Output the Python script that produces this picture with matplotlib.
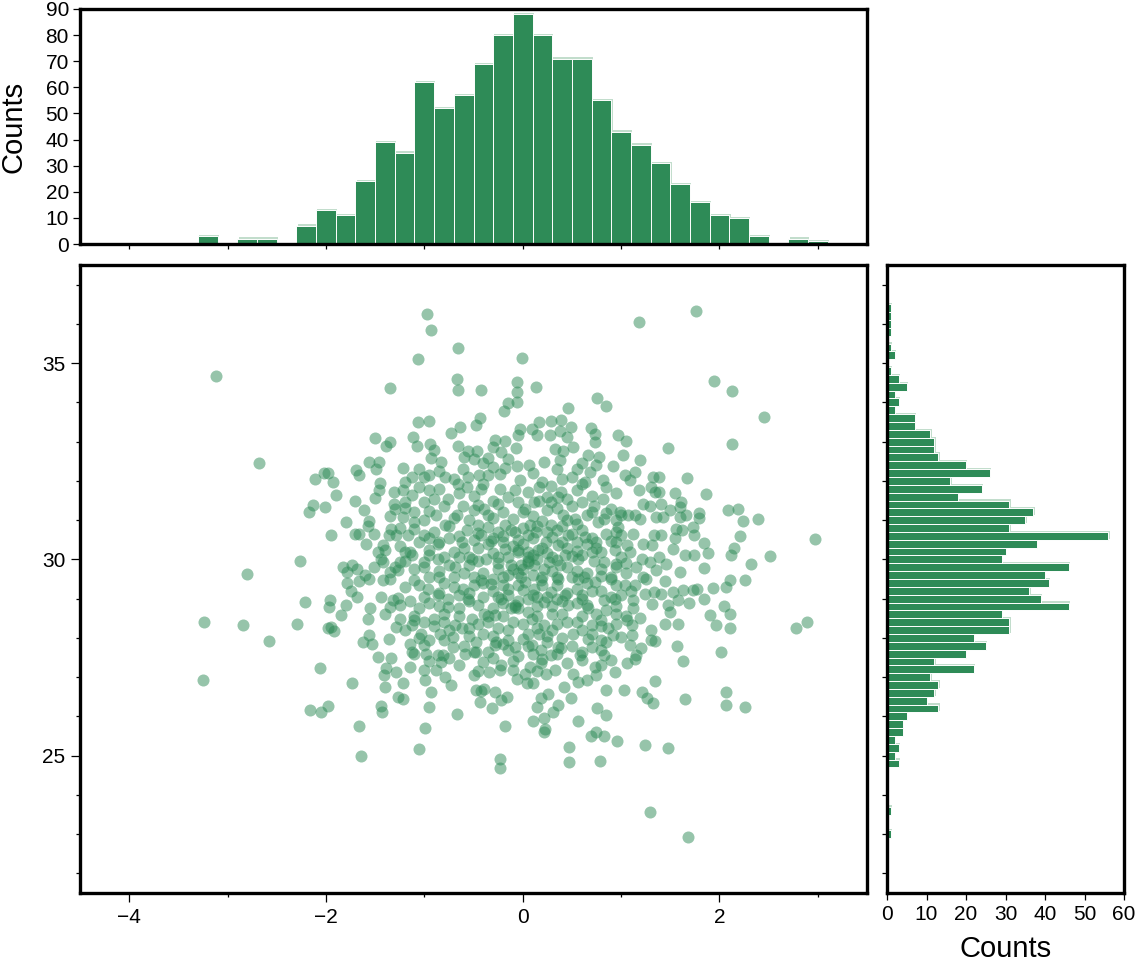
import matplotlib
matplotlib.use("Agg")
import matplotlib.pyplot as plt
from matplotlib.ticker import MultipleLocator, NullFormatter

plt.rcParams['font.family'] = ['Liberation Sans', 'DejaVu Sans']
plt.rcParams['axes.unicode_minus'] = True

# ---------------- data ----------------
top_centers = [-3.2, -3.0, -2.8, -2.6, -2.4, -2.2, -2.0, -1.8, -1.6, -1.4, -1.2, -1.0,
               -0.8, -0.6, -0.4, -0.2, 0.0, 0.2, 0.4, 0.6, 0.8, 1.0, 1.2, 1.4, 1.6,
               1.8, 2.0, 2.2, 2.4, 2.6, 2.8, 3.0]
top_counts = [3, 0, 2, 2, 0, 7, 13, 11, 24, 39, 35, 62,
              52, 57, 69, 80, 88, 80, 71, 71, 55, 43, 38, 31, 23,
              16, 11, 10, 3, 0, 2, 1]

right_centers = [36.4, 36.2, 36.0, 35.8, 35.6, 35.4, 35.2, 35.0, 34.8, 34.6, 34.4, 34.2,
                 34.0, 33.8, 33.6, 33.4, 33.2, 33.0, 32.8, 32.6, 32.4, 32.2, 32.0, 31.8,
                 31.6, 31.4, 31.2, 31.0, 30.8, 30.6, 30.4, 30.2, 30.0, 29.8, 29.6, 29.4,
                 29.2, 29.0, 28.8, 28.6, 28.4, 28.2, 28.0, 27.8, 27.6, 27.4, 27.2, 27.0,
                 26.8, 26.6, 26.4, 26.2, 26.0, 25.8, 25.6, 25.4, 25.2, 25.0, 24.8, 23.6, 23.0]
right_counts = [1, 1, 1, 1, 0, 1, 2, 0, 1, 3, 5, 2,
                3, 2, 7, 7, 11, 12, 12, 13, 20, 26, 16, 24,
                18, 31, 37, 35, 31, 56, 38, 30, 29, 46, 40, 41,
                36, 39, 46, 29, 31, 31, 22, 25, 20, 12, 22, 11,
                13, 12, 10, 13, 5, 4, 4, 2, 3, 2, 3, 1, 1]

scatter_x = [
    # upper-left region
    -3.12, -1.35, -2.68, -1.50, -1.39, -1.35, -1.56, -1.46, -1.49, -1.69, -1.66, -1.22,
    -2.11, -2.02, -1.98, -1.93, -1.90, -2.13, -2.17, -2.01, -1.46, -1.50, -1.31, -1.22,
    -1.31, -1.30, -1.22, -1.61, -1.56, -1.57, -1.34, -1.36, -1.29, -1.51, -1.70, -1.66,
    -1.95, -1.59, -1.42, -1.47, -1.44, -1.42, -1.25, -1.20, -1.51, -2.26, -2.80, -1.83,
    -1.73, -1.68, -1.79, -1.35, -1.27,
    # lower-left region
    -1.79, -1.66, -1.56, -1.42, -1.35, -2.21, -1.96, -1.97, -1.80, -1.68, -1.44, -1.32,
    -1.27, -1.35, -1.40, -3.24, -2.84, -2.58, -2.29, -1.85, -1.95, -1.98, -1.92, -1.57,
    -1.25, -1.29, -1.56, -1.62, -1.53, -1.36, -1.47, -1.34, -1.39, -1.41, -1.29, -1.40,
    -1.22, -1.27, -1.22, -3.25, -2.06, -1.73, -2.16, -2.05, -1.98, -1.44, -1.43, -1.66,
    -1.64,
    # upper-centre region
    -0.97, -0.93, -0.66, -1.06, -0.01, -0.67, -0.66, -0.42, -0.06, -0.06, 0.14, -0.15,
    -0.19, -0.06, 0.46, 0.76, 0.85, -1.06, -0.95, -0.43, -0.47, -0.64, -0.73, -1.11,
    -1.07, -0.94, -0.90, -0.93, -0.66, -0.83, -1.13, -1.00, -0.79, -0.95, -0.76, -0.03,
    -0.05, 0.09, 0.17, 0.29, 0.39, 0.49, 0.38, 0.28, 0.15, 0.45, 0.69, 0.73,
    0.73, 0.97, -0.28, -0.18, -0.07, -0.30, -0.22, -0.35, -0.56, -0.46, -0.49, 0.33,
    0.41, 0.51, 0.66, 0.78, 0.92, 0.22, 0.38, 0.55, 0.68, 0.82, 0.63, 0.50,
    0.06, -0.06, -0.18, -0.23, -0.03, 0.17, 0.29, 0.39, 0.12, -0.35, -0.42, -0.23,
    -0.08, -0.61, -0.56, -0.66, -0.57, -0.44, -0.61, -0.67, -0.88, -1.00, -1.10, -0.39,
    -0.35, -0.45, -0.18, -0.08, 0.02, 0.17, 0.29, 0.36, 0.50, 0.60, 0.72, 0.82,
    0.90, 0.65, 0.77, 0.83, 0.97, 0.41, 0.53, 0.29, 0.14, 0.07, 0.46, 0.63,
    0.75, 0.90, 0.24, 0.36, 0.16, 0.05, -0.05, -0.18, -0.32, -0.42, -0.57, -0.62,
    -0.79, -0.86, -1.00, -1.10, -1.17, -1.13, -1.00, -0.86, -0.69, -0.52, -0.37, -0.25,
    -0.12, 0.27, 0.43, 0.56, 0.70, 0.83, 0.95, 0.94, -1.13, -1.20,
    # lower-centre region
    -1.05, -0.99, -0.95, -0.93, -0.67, -0.18, -0.23, -0.23, 0.10, 0.22, 0.23, 0.22,
    0.56, 0.47, 0.47, 0.76, 0.85, 0.69, 0.75, 0.83, 0.79, 0.96, 0.49, 0.42,
    0.85, 0.36, 0.31, 0.26, 0.19, 0.15, -0.31, -0.43, -0.42, -0.39, -0.47, -0.28,
    -0.16, -0.22, -0.49, -0.73, -0.79, -0.99, -1.15, -1.00, -0.88, -0.83, -0.81, -1.10,
    -0.98, -0.59, -0.47, -0.40, -0.34, -0.23, -0.22, -0.10, -0.06, 0.04, 0.10, 0.02,
    0.07, 0.19, 0.24, 0.33, 0.39, 0.29, 0.51, 0.56, 0.65, 0.60, 0.73, 0.80,
    0.94, 0.83, 0.90, 0.70, 0.58, -0.15, -0.08, -0.28, -0.47, -0.71, -0.86, -1.00,
    -1.13, -1.03, -1.20, -0.84, -0.71, -0.62, -0.40, -0.27, -0.15, 0.00, 0.09, 0.19,
    0.36, 0.17, 0.22, 0.51, 0.66, 0.80, 0.92, 0.55, 0.70, 0.87, 0.09, -0.08,
    -0.12, -0.05, -0.28, -0.39, -0.52, -0.69, -0.90, -1.00, -1.13, -1.05, -0.96, -1.10,
    -0.86, -0.76, -0.76, -0.61, -0.56, -0.42, -0.32, -0.22, -0.15, -0.08, 0.02, 0.12,
    0.22, 0.29, 0.43, 0.46, 0.60, 0.66, 0.83, 0.94, 0.73, 0.56, 0.36, 0.19,
    0.90,
    # lower-right region
    2.78, 2.89, 2.26, 2.11, 2.07, 1.93, 1.84, 1.77, 1.73, 1.63, 1.53, 1.58,
    1.69, 1.48, 1.41, 1.33, 1.31, 1.24, 1.22, 1.14, 1.04, 1.12, 1.12, 1.19,
    1.06, 1.11, 1.11, 1.00, 1.09, 1.15, 1.14, 1.06, 1.30, 1.35, 1.45, 1.58,
    1.57, 1.63, 1.90, 1.97, 2.05, 2.11, 2.11, 2.02, 1.35, 1.03, 1.21, 1.26,
    1.32, 1.65, 2.07, 2.07, 2.26, 1.24, 1.48, 1.29, 1.68,
    # upper-right region
    1.18, 1.76, 1.94, 2.13, 2.45, 2.13, 1.48, 1.05, 1.02, 1.19, 1.04, 1.09,
    1.14, 1.32, 1.39, 1.67, 1.18, 1.34, 1.39, 1.55, 1.86, 1.22, 1.29, 1.41,
    1.61, 1.60, 1.00, 1.07, 1.14, 1.19, 1.36, 1.43, 1.60, 1.66, 1.79, 1.79,
    2.09, 2.19, 2.24, 2.39, 2.97, 2.21, 2.15, 2.12, 2.32, 2.51, 1.84, 1.88,
    1.73, 1.74, 1.62, 1.56, 1.53, 1.65, 1.74, 1.84, 1.46, 1.39, 1.33, 1.41,
    1.12, 1.06, 1.09, 1.22, 1.31, 1.00, 1.21, 1.29, 0.99, 1.60, 1.36,
    # dense core (overlapping markers), first pass
    -0.85, -0.30, 0.10, 0.35, 0.75, -0.70, 0.20, -1.05,
    -0.85, -0.50, -0.15, 0.05, 0.55, 0.95, -1.20, -0.30, 0.70,
    -0.80, -0.50, -0.20, 0.10, 0.35, 0.85, -1.00, -0.55, -0.10, 0.20, 0.55, -1.35, -0.25,
    -1.25, -0.90, -0.65, -0.35, -0.20, 0.00, 0.25, 0.40, 0.60, 0.85, -0.50, -0.05,
    0.10, 0.55, -0.75, -1.05, -0.25, 0.30,
    -1.25, -0.95, -0.70, -0.45, -0.30, -0.10, 0.05, 0.25, 0.45, 0.65, 0.80, 1.00,
    -0.55, -0.15, 0.15, 0.35, -0.80, -0.05, 0.60, -1.40,
    -1.30, -1.10, -0.85, -0.55, -0.40, -0.15, 0.00, 0.12, 0.30, 0.45, 0.65, 0.80,
    1.05, -0.70, -0.30, -0.02, 0.20, 0.50, -0.95, 1.15, 0.90,
    -1.20, -0.80, -0.50, -0.30, -0.05, 0.10, 0.35, 0.55, 0.80, 1.00, -1.00, -0.65,
    -0.40, 0.05, 0.25, 0.65, 0.95, -0.15,
    -1.25, -0.95, -0.65, -0.45, -0.20, 0.05, 0.30, 0.55, 0.75, 0.95, -0.80, -0.35,
    0.15, 0.40, -1.10, 1.05,
    -0.75, -0.45, -0.25, 0.00, 0.30, 0.45, 0.80, -1.05, -0.55, 0.05, 0.40, 0.70, -0.90,
    -0.95, -0.60, -0.35, -0.05, 0.25, 0.50, 0.80, -0.20, 0.10, -0.75,
    -0.65, -0.45, 0.15, 0.45, 0.75, -0.95, -0.10,
    -1.45, -1.70, -1.80, -1.60, -1.75, -1.55, 1.30, 1.50, 1.55, 1.25, 1.45, 1.50,
    1.30, 1.20,
    # dense core, second pass
    -0.60, -0.15, 0.60, -0.95, 0.40, -0.40,
    -0.65, -0.40, 0.25, 0.45, 0.85, -1.05, -0.05, 0.60, -0.90,
    -0.95, -0.70, -0.30, 0.00, 0.45, 0.70, -1.20, 0.95, 0.25, -0.45,
    -1.10, -0.75, -0.45, -0.12, 0.15, 0.50, 0.70, -0.95, -0.30, 0.05, 0.35, 0.95,
    -1.15, -0.85, -0.60, -0.35, -0.20, 0.00, 0.20, 0.40, 0.55, 0.75, 0.95, -0.65,
    -0.25, 0.10, 0.30, 0.50, -0.95, 0.05,
    -1.20, -1.00, -0.75, -0.60, -0.45, -0.25, -0.10, 0.05, 0.22, 0.38, 0.55, 0.72,
    0.95, -0.85, -0.50, -0.20, 0.10, 0.35, 0.62, 0.80, 1.05, -0.05, -0.02,
    -1.05, -0.70, -0.40, -0.20, 0.00, 0.20, 0.45, 0.70, 0.90, -0.85, -0.55, -0.25,
    0.15, 0.35, 0.60, 1.10,
    -1.15, -0.85, -0.55, -0.30, -0.05, 0.15, 0.40, 0.65, 0.85, -0.65, -0.20, 0.30,
    0.60, 0.95,
    -1.10, -0.80, -0.55, -0.35, -0.10, 0.15, 0.35, 0.60, 0.80, -0.30, 0.25, 0.95,
    -0.80, -0.50, -0.15, 0.05, 0.35, 0.60, -0.30, 0.20, -1.15, 0.85,
]
scatter_y = [
    # upper-left region
    34.68, 34.36, 32.45, 33.09, 32.90, 32.98, 32.49, 32.48, 32.31, 32.28, 32.16, 32.32,
    32.05, 32.20, 32.21, 31.98, 31.63, 31.39, 31.20, 31.33, 31.78, 31.57, 31.71, 31.76,
    31.42, 31.29, 31.08, 31.25, 30.99, 30.85, 30.78, 30.63, 30.63, 30.65, 30.65, 30.64,
    30.63, 30.40, 30.36, 30.20, 30.02, 29.93, 29.93, 30.19, 29.80, 29.95, 29.62, 29.80,
    29.85, 29.76, 29.68, 29.68, 29.72,
    # lower-left region
    29.41, 29.44, 29.49, 29.47, 29.49, 28.91, 28.96, 28.79, 28.85, 29.03, 29.03, 28.96,
    29.02, 28.79, 28.62, 28.40, 28.32, 27.92, 28.36, 28.58, 28.28, 28.24, 28.17, 28.47,
    28.49, 28.28, 28.07, 27.90, 27.84, 27.98, 27.52, 27.49, 27.22, 27.05, 27.13, 26.74,
    26.86, 26.50, 26.44, 26.93, 27.24, 26.84, 26.16, 26.11, 26.27, 26.27, 26.10, 25.75,
    24.98,
    # upper-centre region
    36.26, 35.85, 35.39, 35.11, 35.14, 34.60, 34.31, 34.31, 34.53, 34.26, 34.40, 33.99,
    33.79, 34.02, 33.85, 34.10, 33.90, 33.50, 33.52, 33.59, 33.43, 33.38, 33.21, 33.11,
    32.88, 32.93, 32.79, 32.58, 32.88, 32.48, 32.09, 32.09, 32.11, 31.76, 31.54, 33.33,
    33.17, 33.33, 33.51, 33.52, 33.55, 33.38, 33.26, 33.17, 33.16, 33.11, 33.34, 33.20,
    32.98, 33.16, 33.05, 33.02, 32.83, 32.86, 32.73, 32.58, 32.75, 32.77, 32.56, 32.82,
    32.75, 32.86, 32.65, 32.60, 32.37, 32.49, 32.52, 32.31, 32.22, 32.01, 31.97, 32.09,
    32.41, 32.39, 32.32, 32.18, 32.01, 31.84, 31.88, 31.71, 31.46, 32.14, 31.80, 31.80,
    31.76, 32.31, 32.09, 31.93, 31.84, 32.14, 31.37, 31.12, 31.12, 31.46, 31.20, 31.29,
    31.12, 30.87, 30.87, 30.69, 31.29, 31.50, 31.46, 31.59, 31.37, 31.46, 31.37, 31.53,
    31.29, 31.12, 30.95, 31.04, 30.82, 31.12, 31.04, 30.87, 30.69, 30.87, 30.61, 30.57,
    30.44, 30.48, 30.44, 30.36, 30.23, 29.97, 30.19, 30.27, 30.48, 30.61, 30.74, 30.44,
    30.87, 30.40, 30.61, 30.78, 30.61, 30.10, 29.93, 30.02, 29.80, 30.02, 30.02, 29.76,
    29.85, 29.93, 30.10, 30.02, 30.19, 29.93, 29.89, 30.23, 31.63, 31.97,
    # lower-centre region
    25.18, 25.71, 26.23, 26.62, 26.06, 25.75, 24.92, 24.69, 25.89, 25.95, 25.67, 25.59,
    25.89, 25.22, 24.84, 26.22, 26.03, 25.50, 25.59, 25.50, 24.86, 25.37, 26.47, 26.75,
    26.68, 26.28, 26.11, 26.56, 26.46, 26.23, 26.22, 26.37, 26.64, 26.71, 26.67, 26.62,
    26.50, 26.41, 27.05, 26.79, 27.00, 26.92, 27.26, 27.18, 27.18, 27.39, 27.56, 27.58,
    27.60, 27.60, 27.63, 27.39, 27.13, 27.18, 27.30, 27.18, 26.96, 26.84, 26.84, 27.09,
    27.26, 27.35, 27.09, 27.18, 27.73, 27.56, 27.09, 26.88, 26.92, 27.43, 27.26, 27.30,
    27.12, 27.56, 27.43, 27.77, 27.56, 27.68, 27.77, 27.81, 27.90, 27.77, 27.56, 27.81,
    27.64, 28.11, 28.19, 28.11, 28.02, 28.24, 28.11, 27.90, 28.19, 27.98, 27.81, 27.68,
    27.77, 28.11, 28.32, 28.11, 27.98, 27.94, 28.07, 28.40, 28.32, 28.24, 28.49, 28.79,
    28.75, 28.75, 28.58, 28.62, 28.49, 28.32, 28.49, 28.40, 28.32, 28.75, 29.25, 29.47,
    29.08, 29.00, 28.79, 29.25, 29.00, 29.47, 29.38, 29.00, 29.25, 28.83, 29.42, 29.25,
    28.91, 29.17, 29.08, 28.83, 29.00, 28.75, 28.96, 29.00, 29.42, 29.51, 29.51, 29.47,
    29.51,
    # lower-right region
    28.24, 28.40, 29.47, 29.47, 29.30, 29.28, 28.98, 29.25, 29.21, 29.21, 29.17, 28.96,
    28.89, 28.83, 29.13, 29.17, 28.87, 29.13, 29.55, 29.34, 29.34, 28.96, 28.75, 28.51,
    28.45, 28.32, 28.08, 28.02, 27.81, 27.56, 27.46, 27.36, 27.94, 27.92, 28.36, 28.36,
    27.79, 27.41, 28.58, 28.32, 28.80, 28.62, 28.24, 27.63, 26.90, 26.67, 26.61, 26.46,
    26.35, 26.44, 26.62, 26.28, 26.23, 25.27, 25.19, 23.57, 22.93,
    # upper-right region
    36.04, 36.34, 34.54, 34.29, 33.63, 32.94, 32.84, 33.01, 32.67, 32.52, 32.14, 32.01,
    32.22, 32.09, 32.09, 32.08, 31.78, 31.71, 31.71, 31.69, 31.67, 31.42, 31.35, 31.42,
    31.46, 31.33, 31.12, 31.12, 31.12, 31.04, 31.08, 31.08, 31.08, 31.14, 31.19, 31.05,
    31.26, 31.29, 30.98, 31.04, 30.52, 30.59, 30.29, 30.10, 29.87, 30.09, 30.42, 30.17,
    30.82, 30.61, 30.74, 30.78, 30.27, 30.12, 30.12, 29.78, 29.89, 30.06, 30.61, 30.61,
    30.65, 30.37, 30.19, 30.40, 30.36, 30.61, 30.02, 29.93, 31.20, 29.68, 29.72,
    # dense core (overlapping markers), first pass
    32.25, 32.35, 32.20, 32.30, 32.40, 32.05, 31.98, 32.30,
    31.80, 31.62, 31.60, 31.72, 31.78, 31.70, 31.45, 31.50, 31.62,
    31.35, 31.25, 31.20, 31.10, 31.30, 31.18, 31.00, 31.00, 31.02, 30.98, 30.90, 31.10, 31.40,
    30.80, 30.70, 30.60, 30.82, 30.60, 30.80, 30.70, 30.85, 30.75, 30.65, 30.50, 30.50,
    30.55, 30.45, 30.55, 30.45, 30.70, 30.58,
    30.35, 30.25, 30.20, 30.30, 30.15, 30.35, 30.20, 30.15, 30.30, 30.40, 30.20, 30.05,
    30.05, 30.05, 30.00, 29.98, 30.05, 30.25, 30.10, 30.25,
    29.80, 29.75, 29.70, 29.85, 29.65, 29.60, 29.75, 29.85, 29.70, 29.80, 29.65, 29.75,
    29.65, 29.55, 29.50, 29.55, 29.55, 29.55, 29.55, 29.80, 29.55,
    29.30, 29.40, 29.35, 29.20, 29.35, 29.10, 29.35, 29.25, 29.20, 29.10, 29.05, 29.10,
    29.05, 29.00, 29.05, 29.40, 29.35, 29.10,
    28.85, 28.90, 28.75, 28.85, 28.90, 28.65, 28.80, 28.90, 28.60, 28.80, 28.60, 28.55,
    28.55, 28.60, 28.55, 28.55,
    28.20, 28.35, 28.25, 28.35, 28.20, 28.40, 28.45, 28.00, 28.05, 28.10, 28.00, 28.10, 28.30,
    27.95, 27.80, 27.65, 27.55, 27.90, 27.80, 27.70, 27.85, 27.60, 27.50,
    27.30, 27.15, 27.15, 27.35, 27.05, 27.40, 27.40,
    31.95, 31.50, 30.95, 29.60, 29.20, 28.75, 31.85, 31.25, 30.55, 29.50, 29.45, 28.65,
    28.20, 27.75,
    # dense core, second pass
    32.62, 32.55, 32.45, 32.15, 32.05, 32.45,
    31.70, 31.92, 31.60, 31.55, 31.85, 31.85, 31.45, 31.92, 31.55,
    31.22, 31.05, 31.05, 31.20, 31.00, 31.20, 31.30, 31.00, 31.25, 31.38,
    30.95, 30.85, 30.68, 30.75, 30.85, 30.65, 30.55, 30.55, 30.55, 30.62, 30.75, 30.70,
    30.20, 30.45, 30.30, 30.38, 30.45, 30.40, 30.30, 30.45, 30.22, 30.30, 30.45, 30.05,
    30.05, 30.10, 30.05, 30.08, 30.10, 30.05,
    29.95, 29.80, 29.85, 29.65, 29.95, 29.90, 29.75, 29.90, 29.75, 29.85, 29.70, 29.95,
    29.80, 29.55, 29.55, 29.55, 29.60, 29.55, 29.55, 29.58, 29.90, 29.65, 29.85,
    29.35, 29.30, 29.40, 29.35, 29.22, 29.35, 29.15, 29.20, 29.05, 29.15, 29.15, 29.05,
    29.05, 29.00, 29.10, 29.20,
    28.95, 28.80, 28.95, 28.75, 28.95, 28.80, 28.95, 28.85, 28.70, 28.55, 28.55, 28.60,
    28.55, 28.60,
    28.45, 28.40, 28.25, 28.40, 28.40, 28.25, 28.35, 28.20, 28.30, 28.05, 28.05, 28.35,
    27.95, 27.65, 27.95, 27.80, 27.60, 27.65, 27.50, 27.45, 27.85, 27.90,
]

x_range = (-4.5, 3.5)
y_range = (21.5, 37.5)

GREEN = '#2e8b57'
SHADOW = '#c2ddcc'
FS_TICK = 15
FS_LABEL = 21
SPINE_W = 2.4

# ---------------- layout ----------------
W, H = 1136, 966
fig = plt.figure(figsize=(W / 100, H / 100), dpi=100)


def rect(l, t, r, b):
    return [l / W, 1 - b / H, (r - l) / W, (b - t) / H]


ax_main = fig.add_axes(rect(80, 265, 867, 893))
ax_top = fig.add_axes(rect(80, 9, 867, 244))
ax_right = fig.add_axes(rect(887, 265, 1124, 893))

for ax in (ax_main, ax_top, ax_right):
    for sp in ax.spines.values():
        sp.set_linewidth(SPINE_W)
        sp.set_color('black')

# ---------------- main scatter ----------------
ax_main.scatter(scatter_x, scatter_y, s=75, color=GREEN, alpha=0.5, linewidths=0)
ax_main.set_xlim(*x_range)
ax_main.set_ylim(*y_range)
ax_main.xaxis.set_major_locator(MultipleLocator(2))
ax_main.xaxis.set_minor_locator(MultipleLocator(1))
ax_main.yaxis.set_major_locator(MultipleLocator(5))
ax_main.yaxis.set_minor_locator(MultipleLocator(1))
ax_main.tick_params(which='major', direction='out', length=6.5, width=0.9,
                    labelsize=FS_TICK, pad=4)
ax_main.tick_params(which='minor', direction='out', length=3.2, width=0.9)

# ---------------- top histogram ----------------
sh_x = [c + 0.013 for c, h in zip(top_centers, top_counts) if h > 0]
sh_h = [h + 0.5 for h in top_counts if h > 0]
ax_top.bar(sh_x, sh_h, width=0.2, color=SHADOW, linewidth=0, zorder=1)
ax_top.bar(top_centers, top_counts, width=0.2, color=GREEN, edgecolor='white',
           linewidth=0.7, zorder=2)
ax_top.set_xlim(*x_range)
ax_top.set_ylim(0, 90)
ax_top.xaxis.set_major_locator(MultipleLocator(1))
ax_top.xaxis.set_major_formatter(NullFormatter())
ax_top.yaxis.set_major_locator(MultipleLocator(10))
ax_top.tick_params(axis='x', direction='out', length=3.5, width=0.9)
ax_top.tick_params(axis='y', direction='out', length=5, width=0.9,
                   labelsize=FS_TICK, pad=3)
ax_top.set_ylabel('Counts', fontsize=FS_LABEL, va='center')
ax_top.yaxis.set_label_coords((14 - 80) / 787, 0.5)

# ---------------- right histogram ----------------
rs_y = [c + 0.03 for c, n in zip(right_centers, right_counts) if n > 0]
rs_w = [n + 0.35 for n in right_counts if n > 0]
ax_right.barh(rs_y, rs_w, height=0.2, color=SHADOW, linewidth=0, zorder=1)
ax_right.barh(right_centers, right_counts, height=0.2, color=GREEN,
              edgecolor='white', linewidth=0.7, zorder=2)
ax_right.set_ylim(*y_range)
ax_right.set_xlim(0, 60)
ax_right.yaxis.set_major_locator(MultipleLocator(1))
ax_right.yaxis.set_major_formatter(NullFormatter())
ax_right.xaxis.set_major_locator(MultipleLocator(10))
ax_right.tick_params(axis='y', direction='out', length=3.5, width=0.9)
ax_right.tick_params(axis='x', direction='out', length=5, width=0.9,
                     labelsize=FS_TICK, pad=4)
ax_right.set_xlabel('Counts', fontsize=FS_LABEL, va='center')
ax_right.xaxis.set_label_coords(0.5, -(949 - 893) / 628)

fig.savefig('out.png', dpi=100)
